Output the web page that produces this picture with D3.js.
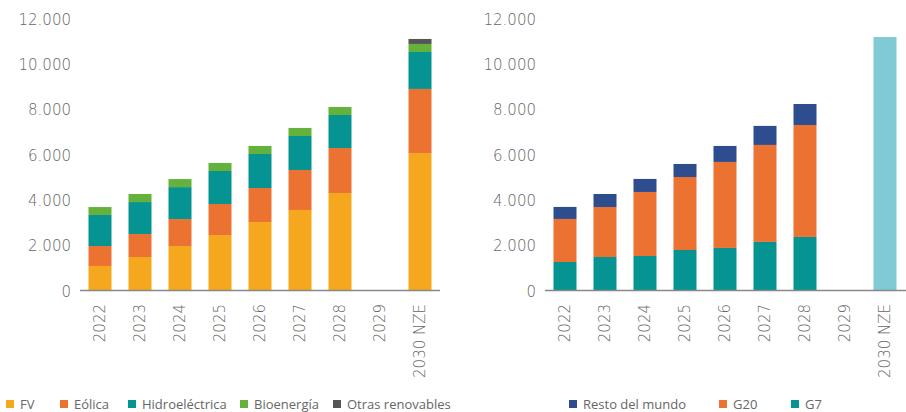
<!DOCTYPE html>
<html>
<head>
<meta charset="utf-8">
<script src="https://cdn.jsdelivr.net/npm/d3@7"></script>
<style>
	body { margin: 0; background: #fff; }
	svg text { font-family: "Open Sans", "DejaVu Sans", sans-serif; fill: #666; }
	svg .tick text { font-family: "DejaVu Sans", sans-serif; font-weight: 300; }
</style>
</head>
<body>
<div class="plotWin"></div>
<script>

// ---------- data ---------- //
var categories = ["2022", "2023", "2024", "2025", "2026", "2027", "2028", "2029", "2030 NZE"];

// left: by technology
var fv        = [1060, 1455, 1940, 2425, 3000, 3530, 4280, 0, 6045];
var eolica    = [ 880, 1015, 1190, 1370, 1500, 1765, 1985, 0, 2825];
var hidro     = [1370, 1410, 1410, 1455, 1500, 1500, 1455, 0, 1630];
var bioenergia= [ 350,  355,  355,  355,  355,  355,  355, 0,  355];
var otras     = [   0,    0,    0,    0,    0,    0,    0, 0,  220];

// right: by region
var g7        = [1235, 1455, 1500, 1765, 1855, 2120, 2340, 0, 0];
var g20       = [1900, 2205, 2825, 3220, 3795, 4280, 4940, 0, 0];
var resto     = [ 530,  575,  575,  575,  705,  840,  925, 0, 0];
var nze       = [   0,    0,    0,    0,    0,    0,    0, 0, 11160];

var yTicks = [0, 2000, 4000, 6000, 8000, 10000, 12000];

var SVG_WIDTH = 906,
	SVG_HEIGHT = 412,
	BASE_Y = 290,
	TOP_Y = 18;

var fmt = d3.formatLocale({decimal: ",", thousands: ".", grouping: [3], currency: ["", ""]}).format(",");

var svg = d3.select(".plotWin")
	.append("svg")
		.attr("width", SVG_WIDTH)
		.attr("height", SVG_HEIGHT);

var y = d3.scaleLinear().domain([0, 12000]).range([BASE_Y, TOP_Y]);

function drawPanel(opts) {
	var x = d3.scaleBand()
		.domain(categories)
		.range([opts.x0, opts.x1])
		.paddingInner(0.425)
		.paddingOuter(0.2125);

	// rows of stacked values
	var rows = categories.map(function(c, i) {
		var r = {cat: c};
		opts.series.forEach(function(s) { r[s.key] = s.values[i]; });
		return r;
	});

	var stack = d3.stack().keys(opts.series.map(function(s) { return s.key; }));
	var layers = stack(rows);

	var g = svg.append("g");

	g.selectAll("g.layer")
		.data(layers)
		.enter()
		.append("g")
			.attr("class", "layer")
			.attr("fill", function(d, i) { return opts.series[i].color; })
		.selectAll("rect")
		.data(function(d) { return d; })
		.enter()
		.append("rect")
			.attr("x", function(d) { return x(d.data.cat); })
			.attr("y", function(d) { return y(d[1]); })
			.attr("width", x.bandwidth())
			.attr("height", function(d) { return y(d[0]) - y(d[1]); });

	// y axis labels
	var yAx = g.append("g")
		.attr("transform", "translate(" + opts.yLabelX + ",0)")
		.call(d3.axisLeft(y).tickValues(yTicks).tickFormat(fmt).tickSize(0).tickPadding(0));
	yAx.select(".domain").remove();
	yAx.selectAll("text")
		.attr("dy", "0.42em")
		.style("font-size", "15px")
		.style("fill", "#666");

	// x axis
	var xAx = g.append("g")
		.attr("transform", "translate(0," + BASE_Y + ")")
		.call(d3.axisBottom(x).tickSize(0).tickPadding(0));
	xAx.select(".domain").remove();
	xAx.selectAll("text")
		.attr("transform", "rotate(-90)")
		.attr("text-anchor", "end")
		.attr("x", -14)
		.attr("y", 0)
		.attr("dy", "0.36em")
		.style("font-size", "15px")
		.style("fill", "#666");

	g.append("line")
		.attr("x1", opts.x0)
		.attr("x2", opts.lineEnd)
		.attr("y1", BASE_Y + 0.5)
		.attr("y2", BASE_Y + 0.5)
		.attr("stroke", "#888")
		.attr("stroke-width", 1.5);

	// legend
	var leg = g.selectAll("g.leg")
		.data(opts.legend)
		.enter()
		.append("g")
			.attr("class", "leg")
			.attr("transform", function(d) { return "translate(" + d.x + ",404)"; });
	leg.append("rect")
		.attr("x", 0)
		.attr("y", -4)
		.attr("width", 8)
		.attr("height", 8)
		.attr("fill", function(d) { return d.color; });
	leg.append("text")
		.attr("x", 14)
		.attr("dy", "0.35em")
		.style("font-size", "13px")
		.style("fill", "#666")
		.text(function(d) { return d.label; });
}

var C_FV = "#f5a71e", C_EOL = "#ec7232", C_HID = "#059492", C_BIO = "#64b23c",
	C_OTR = "#555555", C_RES = "#2e4d8e", C_NZE = "#80cad5";

drawPanel({
	x0: 80, x1: 440, lineEnd: 440, yLabelX: 71,
	series: [
		{key: "fv", values: fv, color: C_FV},
		{key: "eol", values: eolica, color: C_EOL},
		{key: "hid", values: hidro, color: C_HID},
		{key: "bio", values: bioenergia, color: C_BIO},
		{key: "otr", values: otras, color: C_OTR}
	],
	legend: [
		{label: "FV", color: C_FV, x: 6},
		{label: "Eólica", color: C_EOL, x: 60},
		{label: "Hidroeléctrica", color: C_HID, x: 128},
		{label: "Bioenergía", color: C_BIO, x: 240},
		{label: "Otras renovables", color: C_OTR, x: 333}
	]
});

drawPanel({
	x0: 545, x1: 905, lineEnd: 906, yLabelX: 536,
	series: [
		{key: "g7", values: g7, color: C_HID},
		{key: "g20", values: g20, color: C_EOL},
		{key: "res", values: resto, color: C_RES},
		{key: "nze", values: nze, color: C_NZE}
	],
	legend: [
		{label: "Resto del mundo", color: C_RES, x: 569},
		{label: "G20", color: C_EOL, x: 719},
		{label: "G7", color: C_HID, x: 791}
	]
});

</script>
</body>
</html>
